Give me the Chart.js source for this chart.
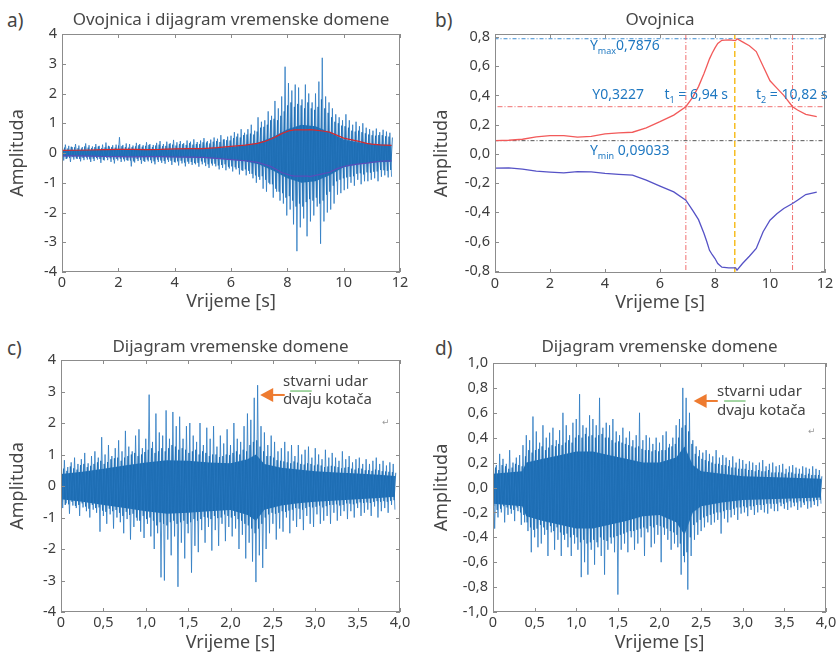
<!DOCTYPE html>
<html>
<head>
<meta charset="utf-8">
<script src="https://cdn.jsdelivr.net/npm/chart.js@4.4.0/dist/chart.umd.min.js"></script>
<style>
  body { margin: 0; background: #fff; width: 840px; height: 654px; position: relative; overflow: hidden; }
  canvas { position: absolute; }
  .letter { position: absolute; font: 19px "Noto Sans", sans-serif; color: #444; }
</style>
</head>
<body>
<div class="letter" style="left:7px;top:7px">a)</div>
<div class="letter" style="left:435px;top:7px">b)</div>
<div class="letter" style="left:7px;top:335px">c)</div>
<div class="letter" style="left:435px;top:335px">d)</div>
<canvas id="chartA" width="420" height="320" style="left:0;top:0"></canvas>
<canvas id="chartB" width="420" height="320" style="left:420px;top:0"></canvas>
<canvas id="chartC" width="420" height="327" style="left:0;top:327px"></canvas>
<canvas id="chartD" width="420" height="327" style="left:420px;top:327px"></canvas>
<script>
// envelope (Ovojnica), shared by a) and b)
var envTime  = [0, 0.5, 1, 1.5, 2, 2.5, 3, 3.5, 4, 4.5, 5, 5.5, 6, 6.5, 6.94, 7.2, 7.4, 7.6, 7.7, 7.8, 7.9, 8, 8.1, 8.25, 8.5, 8.75, 8.8, 9, 9.25, 9.5, 9.75, 10, 10.25, 10.5, 10.82, 11, 11.3, 11.7];
var envUpper = [0.091, 0.093, 0.10, 0.116, 0.125, 0.125, 0.114, 0.12, 0.137, 0.144, 0.148, 0.178, 0.22, 0.265, 0.3227, 0.39, 0.46, 0.55, 0.60, 0.65, 0.69, 0.725, 0.755, 0.777, 0.78, 0.775, 0.7876, 0.766, 0.74, 0.70, 0.60, 0.50, 0.45, 0.40, 0.3227, 0.30, 0.27, 0.255];
var envLower = [-0.098, -0.096, -0.105, -0.118, -0.125, -0.13, -0.121, -0.123, -0.134, -0.141, -0.146, -0.18, -0.221, -0.26, -0.317, -0.39, -0.45, -0.545, -0.60, -0.66, -0.69, -0.716, -0.75, -0.775, -0.78, -0.78, -0.795, -0.75, -0.70, -0.647, -0.533, -0.454, -0.41, -0.374, -0.34, -0.317, -0.278, -0.262];

// markers in b)
var yMaxVal = 0.7876;
var yRefVal = 0.3227;
var yMinVal = 0.09033;
var t1Val = 6.94;
var t2Val = 10.82;
var tPeak = 8.72;

// a) full record: peaks every 0.06 s, plus in-between samples
var dtA = 0.06;
var sigA = [
  0.22, -0.25, 0.28, -0.18, 0.24, -0.3, 0.2, -0.22, 0.3, -0.2,
  0.25, -0.28, 0.2, -0.24, 0.32, -0.22, 0.26, -0.3, 0.22, -0.27,
  0.3, -0.22, 0.24, -0.33, 0.28, -0.25, 0.35, -0.24, 0.22, -0.3,
  0.26, -0.35, 0.28, -0.25, 0.53, -0.3, 0.27, -0.28, 0.32, -0.26,
  0.3, -0.45, 0.25, -0.32, 0.34, -0.27, 0.3, -0.36, 0.26, -0.3,
  0.36, -0.28, 0.3, -0.34, 0.27, -0.38, 0.34, -0.3, 0.4, -0.33,
  0.3, -0.36, 0.38, -0.3, 0.33, -0.4, 0.44, -0.32, 0.36, -0.42,
  0.4, -0.35, 0.33, -0.45, 0.42, -0.36, 0.38, -0.4, 0.46, -0.38,
  0.37, -0.46, 0.42, -0.38, 0.5, -0.44, 0.4, -0.5, 0.45, -0.42,
  0.52, -0.45, 0.48, -0.55, 0.6, -0.5, 0.46, -0.58, 0.55, -0.52,
  0.58, -0.62, 0.7, -0.55, 0.65, -0.72, 0.8, -0.6, 0.68, -0.75,
  0.8, -0.7, 0.95, -0.85, 0.75, -1.0, 1.2, -0.9, 1.05, -1.2,
  1.1, -1.3, 1.4, -1.05, 1.25, -1.5, 1.75, -1.3, 1.5, -1.6,
  1.9, -1.7, 2.9, -2.1, 2.35, -1.9, 2.1, -2.4, 2.3, -3.3,
  2.2, -2.5, 1.8, -2.2, 2.3, -2.8, 2.0, -2.3, 1.7, -2.1,
  2.0, -1.8, 2.4, -3.05, 3.2, -2.3, 1.9, -2.0, 1.7, -1.9,
  1.5, -1.7, 1.3, -1.4, 1.2, -1.35, 1.1, -1.25, 1.3, -1.2,
  1.1, -1.0, 0.95, -1.1, 1.05, -0.9, 0.9, -1.05, 1.0, -0.95,
  0.85, -0.95, 0.8, -0.9, 0.75, -0.85, 0.82, -0.95, 0.7, -0.8,
  0.78, -0.75, 0.72, -0.82, 0.68, -0.8
];
var sigA2 = [
  -0.16, 0.18, -0.2, 0.15, -0.17, 0.21, -0.14, 0.19, -0.18, 0.16,
  -0.2, 0.15, -0.17, 0.22, -0.15, 0.18, -0.21, 0.16, -0.19, 0.2,
  -0.17, 0.22, -0.2, 0.16, -0.23, 0.19, -0.16, 0.24, -0.18, 0.2,
  -0.22, 0.18, -0.2, 0.25, -0.19, 0.23, -0.21, 0.2, -0.24, 0.18,
  -0.25, 0.2, -0.28, 0.22, -0.2, 0.26, -0.23, 0.21, -0.27, 0.24,
  -0.22, 0.27, -0.24, 0.2, -0.28, 0.25, -0.22, 0.28, -0.25, 0.23,
  -0.27, 0.24, -0.22, 0.3, -0.26, 0.28, -0.3, 0.25, -0.28, 0.3,
  -0.26, 0.3, -0.32, 0.27, -0.29, 0.33, -0.3, 0.28, -0.34, 0.3,
  -0.33, 0.3, -0.28, 0.36, -0.32, 0.35, -0.38, 0.32, -0.35, 0.38,
  -0.36, 0.4, -0.42, 0.37, -0.4, 0.45, -0.38, 0.43, -0.46, 0.42,
  -0.45, 0.5, -0.48, 0.55, -0.5, 0.52, -0.58, 0.6, -0.55, 0.62,
  -0.6, 0.65, -0.7, 0.62, -0.75, 0.72, -0.8, 0.85, -0.78, 0.88,
  -0.9, 0.95, -1.0, 1.1, -1.05, 1.15, -1.2, 1.1, -1.3, 1.25,
  -1.35, 1.4, -1.5, 1.6, -1.45, 1.7, -1.6, 1.55, -1.8, 1.65,
  -1.7, 1.6, -1.8, 1.5, -1.65, 1.7, -1.55, 1.5, -1.6, 1.45,
  -1.5, 1.55, -1.7, 1.8, -1.6, 1.5, -1.4, 1.35, -1.3, 1.2,
  -1.1, 1.05, -0.95, 1.0, -0.9, 0.92, -0.85, 0.9, -0.82, 0.85,
  -0.8, 0.75, -0.78, 0.72, -0.7, 0.75, -0.68, 0.7, -0.72, 0.66,
  -0.65, 0.62, -0.66, 0.6, -0.63, 0.58, -0.62, 0.6, -0.57, 0.6,
  -0.58, 0.56, -0.6, 0.55, -0.57, 0.52
];
var coreTimeA = [0, 1, 2, 3, 4, 5, 6, 6.5, 7, 7.5, 8, 8.5, 9, 9.5, 10, 10.5, 11, 11.7];
var coreHiA = [0.1, 0.1, 0.11, 0.12, 0.13, 0.15, 0.2, 0.26, 0.36, 0.55, 0.8, 0.95, 0.9, 0.7, 0.45, 0.36, 0.3, 0.27];
var coreLoA = [-0.11, -0.11, -0.12, -0.13, -0.14, -0.16, -0.22, -0.28, -0.39, -0.6, -0.85, -1.0, -0.95, -0.75, -0.48, -0.38, -0.32, -0.29];

// c) and d) 4 s windows, every 0.02 s plus in-between samples
var dtC = 0.02;
var sigC = [
  0.65, -0.7, 0.82, -0.55, 0.6, -0.88, 0.75, -0.62, 0.9, -0.7,
  0.7, -0.95, 0.85, -0.68, 1.05, -0.8, 0.72, -1.0, 0.95, -0.75,
  1.1, -0.85, 0.9, -1.45, 1.55, -0.95, 1.0, -1.2, 1.3, -0.9,
  0.95, -1.35, 1.2, -1.0, 1.45, -1.15, 1.1, -1.5, 1.75, -1.05,
  1.25, -1.7, 1.1, -1.3, 1.6, -1.1, 1.8, -1.45, 1.2, -1.65,
  1.5, -1.2, 2.9, -1.6, 1.4, -2.0, 2.3, -1.5, 1.7, -2.9,
  1.6, -3.0, 2.4, -1.7, 1.5, -2.2, 2.35, -1.6, 1.9, -3.2,
  2.2, -1.8, 1.5, -2.3, 1.9, -1.5, 2.0, -2.75, 1.6, -1.9,
  1.4, -2.1, 2.0, -1.4, 1.3, -1.8, 1.85, -1.3, 1.5, -2.05,
  1.9, -1.4, 1.25, -1.9, 1.6, -1.2, 1.35, -1.75, 1.8, -1.3,
  1.3, -1.6, 2.0, -1.35, 1.5, -2.0, 1.4, -1.55, 1.9, -2.3,
  2.3, -1.8, 2.1, -2.4, 2.8, -3.05, 3.2, -2.2, 1.9, -2.6,
  1.7, -2.0, 1.3, -1.5, 1.6, -1.2, 1.4, -1.7, 1.1, -1.35,
  1.2, -1.45, 1.4, -1.0, 1.1, -1.5, 1.3, -1.1, 0.95, -1.3,
  1.3, -1.05, 1.0, -1.4, 1.15, -0.95, 1.25, -1.2, 0.9, -1.3,
  1.2, -0.9, 1.0, -1.2, 0.85, -1.1, 1.15, -0.95, 0.9, -1.2,
  1.05, -0.85, 0.9, -1.1, 0.8, -0.95, 1.1, -0.8, 0.85, -1.05,
  0.95, -0.8, 0.75, -1.0, 0.85, -0.7, 0.9, -0.95, 0.7, -0.85,
  0.85, -0.75, 0.7, -0.95, 0.8, -0.65, 0.9, -1.0, 0.7, -0.8,
  0.8, -0.7, 0.65, -0.85, 0.75, -0.6, 0.7, -0.75
];
var sigC2 = [
  -0.5, 0.55, -0.6, 0.48, -0.58, 0.62, -0.5, 0.56, -0.63, 0.52,
  -0.6, 0.66, -0.55, 0.7, -0.65, 0.6, -0.72, 0.64, -0.6, 0.7,
  -0.7, 0.75, -0.68, 0.8, -0.78, 0.7, -0.82, 0.76, -0.72, 0.85,
  -0.8, 0.88, -0.76, 0.9, -0.85, 0.8, -0.95, 0.9, -0.82, 0.95,
  -0.92, 1.0, -0.88, 1.05, -1.0, 0.95, -1.1, 1.0, -0.95, 1.08,
  -1.05, 1.15, -1.0, 1.2, -1.1, 1.05, -1.25, 1.1, -1.15, 1.2,
  -1.2, 1.1, -1.25, 1.2, -1.15, 1.3, -1.1, 1.25, -1.2, 1.15,
  -1.15, 1.2, -1.1, 1.15, -1.2, 1.05, -1.15, 1.1, -1.05, 1.15,
  -1.1, 1.0, -1.05, 1.1, -0.98, 1.05, -1.0, 0.95, -1.05, 1.0,
  -0.95, 1.0, -1.02, 0.92, -1.0, 0.95, -0.9, 1.0, -0.95, 0.98,
  -1.0, 1.05, -0.95, 1.1, -1.05, 1.0, -1.1, 1.15, -1.2, 1.1,
  -1.25, 1.3, -1.35, 1.4, -1.5, 1.45, -1.35, 1.25, -1.2, 1.1,
  -1.0, 0.95, -0.9, 0.95, -0.85, 0.9, -0.88, 0.82, -0.85, 0.8,
  -0.8, 0.78, -0.82, 0.75, -0.78, 0.72, -0.75, 0.78, -0.7, 0.74,
  -0.72, 0.7, -0.75, 0.68, -0.7, 0.72, -0.66, 0.7, -0.68, 0.65,
  -0.66, 0.68, -0.62, 0.65, -0.68, 0.6, -0.64, 0.62, -0.6, 0.64,
  -0.6, 0.62, -0.58, 0.6, -0.62, 0.56, -0.6, 0.58, -0.55, 0.6,
  -0.56, 0.55, -0.58, 0.52, -0.55, 0.56, -0.52, 0.55, -0.54, 0.5,
  -0.52, 0.5, -0.54, 0.48, -0.5, 0.52, -0.48, 0.5, -0.5, 0.47,
  -0.48, 0.46, -0.5, 0.45, -0.47, 0.44, -0.45, 0.42
];
var coreTimeC = [0, 0.25, 0.5, 0.75, 1.0, 1.25, 1.5, 1.75, 2.0, 2.2, 2.3, 2.4, 2.6, 2.8, 3.0, 3.25, 3.5, 3.75, 3.94];
var coreHiC = [0.38, 0.45, 0.55, 0.65, 0.75, 0.82, 0.8, 0.75, 0.72, 0.85, 1.0, 0.7, 0.58, 0.52, 0.47, 0.43, 0.4, 0.36, 0.32];
var coreLoC = [-0.42, -0.5, -0.6, -0.7, -0.8, -0.88, -0.85, -0.8, -0.76, -0.92, -1.1, -0.75, -0.62, -0.55, -0.5, -0.46, -0.42, -0.38, -0.34];

var dtD = 0.02;
var sigD = [
  0.22, -0.33, 0.18, -0.24, 0.27, -0.2, 0.23, -0.28, 0.19, -0.22,
  0.3, -0.21, 0.2, -0.27, 0.24, -0.19, 0.26, -0.3, 0.34, -0.28,
  0.42, -0.35, 0.38, -0.52, 0.57, -0.4, 0.45, -0.48, 0.36, -0.45,
  0.5, -0.38, 0.4, -0.55, 0.44, -0.36, 0.48, -0.5, 0.38, -0.42,
  0.46, -0.55, 0.6, -0.42, 0.5, -0.48, 0.42, -0.55, 0.52, -0.45,
  0.55, -0.5, 0.75, -0.72, 0.5, -0.6, 0.48, -0.7, 0.58, -0.5,
  0.55, -0.62, 0.5, -0.48, 0.72, -0.55, 0.48, -0.7, 0.52, -0.5,
  0.5, -0.45, 0.55, -0.52, 0.45, -0.86, 0.42, -0.5, 0.48, -0.45,
  0.4, -0.52, 0.45, -0.4, 0.38, -0.5, 0.42, -0.45, 0.6, -0.4,
  0.38, -0.55, 0.42, -0.36, 0.4, -0.48, 0.35, -0.45, 0.4, -0.38,
  0.36, -0.6, 0.42, -0.38, 0.45, -0.42, 0.35, -0.5, 0.4, -0.45,
  0.5, -0.48, 0.55, -0.7, 0.8, -0.6, 0.72, -0.82, 0.6, -0.55,
  0.38, -0.42, 0.33, -0.38, 0.3, -0.35, 0.28, -0.32, 0.3, -0.28,
  0.27, -0.3, 0.25, -0.28, 0.3, -0.26, 0.24, -0.37, 0.26, -0.25,
  0.24, -0.28, 0.22, -0.24, 0.25, -0.22, 0.2, -0.26, 0.23, -0.21,
  0.22, -0.2, 0.19, -0.23, 0.21, -0.18, 0.2, -0.22, 0.18, -0.2,
  0.2, -0.18, 0.22, -0.2, 0.17, -0.21, 0.19, -0.17, 0.2, -0.19,
  0.17, -0.19, 0.18, -0.15, 0.19, -0.17, 0.15, -0.18, 0.17, -0.16,
  0.18, -0.15, 0.16, -0.18, 0.15, -0.16, 0.17, -0.14, 0.16, -0.17,
  0.15, -0.16, 0.17, -0.14, 0.15, -0.15, 0.14, -0.13
];
var sigD2 = [
  -0.15, 0.16, -0.18, 0.14, -0.17, 0.18, -0.15, 0.17, -0.16, 0.15,
  -0.17, 0.16, -0.18, 0.19, -0.16, 0.18, -0.2, 0.17, -0.22, 0.25,
  -0.28, 0.3, -0.32, 0.28, -0.34, 0.3, -0.33, 0.31, -0.3, 0.33,
  -0.32, 0.3, -0.34, 0.32, -0.31, 0.34, -0.35, 0.33, -0.32, 0.35,
  -0.36, 0.34, -0.38, 0.36, -0.37, 0.38, -0.4, 0.36, -0.38, 0.4,
  -0.4, 0.42, -0.44, 0.4, -0.42, 0.43, -0.45, 0.41, -0.44, 0.42,
  -0.42, 0.4, -0.44, 0.42, -0.4, 0.43, -0.42, 0.4, -0.43, 0.4,
  -0.4, 0.38, -0.4, 0.36, -0.39, 0.37, -0.38, 0.36, -0.37, 0.35,
  -0.36, 0.34, -0.35, 0.33, -0.35, 0.32, -0.34, 0.33, -0.33, 0.31,
  -0.32, 0.3, -0.33, 0.3, -0.31, 0.29, -0.32, 0.3, -0.3, 0.29,
  -0.31, 0.3, -0.32, 0.3, -0.33, 0.32, -0.35, 0.33, -0.36, 0.35,
  -0.38, 0.4, -0.45, 0.48, -0.55, 0.5, -0.52, 0.45, -0.4, 0.35,
  -0.3, 0.27, -0.28, 0.25, -0.26, 0.23, -0.24, 0.22, -0.23, 0.21,
  -0.22, 0.2, -0.21, 0.19, -0.2, 0.19, -0.2, 0.18, -0.19, 0.18,
  -0.18, 0.17, -0.18, 0.16, -0.17, 0.16, -0.16, 0.15, -0.16, 0.15,
  -0.15, 0.15, -0.16, 0.14, -0.15, 0.14, -0.15, 0.13, -0.14, 0.14,
  -0.14, 0.13, -0.14, 0.13, -0.13, 0.14, -0.13, 0.12, -0.13, 0.12,
  -0.13, 0.12, -0.12, 0.12, -0.13, 0.11, -0.12, 0.12, -0.11, 0.12,
  -0.12, 0.11, -0.12, 0.11, -0.11, 0.11, -0.12, 0.1, -0.11, 0.11,
  -0.11, 0.1, -0.11, 0.1, -0.1, 0.1, -0.1, 0.09
];
var coreTimeD = [0, 0.35, 0.4, 0.6, 0.8, 1.0, 1.2, 1.4, 1.6, 1.8, 2.0, 2.2, 2.3, 2.4, 2.5, 2.75, 3.0, 3.5, 3.94];
var coreHiD = [0.11, 0.13, 0.2, 0.23, 0.26, 0.29, 0.29, 0.26, 0.23, 0.2, 0.2, 0.24, 0.33, 0.18, 0.13, 0.11, 0.09, 0.08, 0.07];
var coreLoD = [-0.13, -0.15, -0.23, -0.27, -0.3, -0.33, -0.33, -0.3, -0.27, -0.23, -0.22, -0.28, -0.38, -0.2, -0.15, -0.12, -0.1, -0.09, -0.08];

// tick labels
var xTicksLong = [0, 2, 4, 6, 8, 10, 12];
var xTicksShort = [0, 0.5, 1, 1.5, 2, 2.5, 3, 3.5, 4];
var yTicksA = [-4, -3, -2, -1, 0, 1, 2, 3, 4];
var yTicksB = [-0.8, -0.6, -0.4, -0.2, 0, 0.2, 0.4, 0.6, 0.8];
var yTicksD = [-1, -0.8, -0.6, -0.4, -0.2, 0, 0.2, 0.4, 0.6, 0.8, 1];

var FONT = '"Noto Sans", sans-serif';
var bandBlue = '#1c6cb2';
var lineBlue = 'rgba(44,122,194,0.8)';
var innerBlue = 'rgba(30,110,180,0.9)';
var noteBlue = '#1f78c1';

function series(dt, vals, offset) {
  return vals.map(function (v, i) { return { x: +(i * dt + (offset || 0)).toFixed(3), y: v }; });
}
function pairs(ts, vals) {
  return ts.map(function (t, i) { return { x: t, y: vals[i] }; });
}

// MATLAB-like box with inward ticks on all four sides
var boxTicks = {
  id: 'boxTicks',
  afterDatasetsDraw: function (chart) {
    var ctx = chart.ctx, a = chart.chartArea;
    var xs = chart.scales.x, ys = chart.scales.y;
    ctx.save();
    ctx.strokeStyle = '#8c8c8c';
    ctx.lineWidth = 1;
    ctx.strokeRect(Math.round(a.left) + 0.5, Math.round(a.top) + 0.5, Math.round(a.right - a.left) - 1, Math.round(a.bottom - a.top) - 1);
    ctx.beginPath();
    xs.ticks.forEach(function (t) {
      var px = Math.round(xs.getPixelForValue(t.value)) + 0.5;
      ctx.moveTo(px, a.bottom); ctx.lineTo(px, a.bottom - 4);
      ctx.moveTo(px, a.top); ctx.lineTo(px, a.top + 4);
    });
    ys.ticks.forEach(function (t) {
      var py = Math.round(ys.getPixelForValue(t.value)) + 0.5;
      ctx.moveTo(a.left, py); ctx.lineTo(a.left + 4, py);
      ctx.moveTo(a.right, py); ctx.lineTo(a.right - 4, py);
    });
    ctx.stroke();
    ctx.restore();
  }
};

// text with optional subscripts: parts = [[text, isSub], ...]
function drawParts(ctx, x, y, parts, color, size) {
  ctx.fillStyle = color;
  ctx.textBaseline = 'middle';
  ctx.textAlign = 'left';
  parts.forEach(function (p) {
    var sub = p[1];
    ctx.font = (sub ? Math.round(size * 0.62) : size) + 'px ' + FONT;
    ctx.fillText(p[0], x, sub ? y + size * 0.38 : y);
    x += ctx.measureText(p[0]).width;
  });
}

function arrowNote(tip, tail, textAt, lines) {
  return {
    id: 'arrowNote',
    afterDraw: function (chart) {
      var ctx = chart.ctx, xs = chart.scales.x, ys = chart.scales.y;
      var tx = xs.getPixelForValue(tip[0]), ty = ys.getPixelForValue(tip[1]);
      var ex = xs.getPixelForValue(tail[0]);
      ctx.save();
      ctx.strokeStyle = '#ee7b30';
      ctx.fillStyle = '#ee7b30';
      ctx.lineWidth = 2;
      ctx.beginPath(); ctx.moveTo(tx + 10, ty); ctx.lineTo(ex, ty); ctx.stroke();
      ctx.beginPath(); ctx.moveTo(tx, ty); ctx.lineTo(tx + 13, ty - 7); ctx.lineTo(tx + 13, ty + 7); ctx.closePath(); ctx.fill();
      var lx = xs.getPixelForValue(textAt[0]);
      ctx.font = '15px ' + FONT;
      ctx.fillStyle = '#444';
      ctx.textBaseline = 'middle';
      ctx.fillText(lines[0], lx, ys.getPixelForValue(textAt[1]));
      ctx.fillText(lines[1], lx, ys.getPixelForValue(textAt[2]));
      // spell-check squiggle under the first word
      var s0 = ctx.measureText('s').width, s1 = ctx.measureText('stva').width;
      ctx.strokeStyle = '#86c886';
      ctx.lineWidth = 1.5;
      var uy = ys.getPixelForValue(textAt[1]) + 9;
      ctx.beginPath(); ctx.moveTo(lx + s0, uy); ctx.lineTo(lx + s1, uy); ctx.stroke();
      ctx.font = '9px "DejaVu Sans"';
      ctx.fillStyle = '#9a9a9a';
      ctx.fillText('\u21b5', chart.chartArea.right - 18, ys.getPixelForValue(textAt[3]));
      ctx.restore();
    }
  };
}

var envNotes = {
  id: 'envNotes',
  afterDraw: function (chart) {
    var ctx = chart.ctx, xs = chart.scales.x, ys = chart.scales.y;
    ctx.save();
    drawParts(ctx, xs.getPixelForValue(3.45), ys.getPixelForValue(0.738), [['Y'], ['max', true], ['0,7876']], noteBlue, 14);
    drawParts(ctx, xs.getPixelForValue(3.54), ys.getPixelForValue(0.40), [['Y0,3227']], noteBlue, 14);
    drawParts(ctx, xs.getPixelForValue(6.16), ys.getPixelForValue(0.40), [['t'], ['1', true], [' = 6,94 s']], noteBlue, 14);
    drawParts(ctx, xs.getPixelForValue(9.49), ys.getPixelForValue(0.40), [['t'], ['2', true], [' = 10,82 s']], noteBlue, 14);
    drawParts(ctx, xs.getPixelForValue(3.45), ys.getPixelForValue(0.02), [['Y'], ['min', true], [' 0,09033']], noteBlue, 14);
    ctx.restore();
  }
};

function makePanel(id, o) {
  return new Chart(document.getElementById(id), {
    type: 'line',
    data: { datasets: o.datasets },
    options: {
      responsive: false,
      animation: false,
      events: [],
      layout: { padding: { left: 0, right: o.padRight, top: 0, bottom: 0 } },
      elements: { point: { radius: 0 }, line: { tension: 0 } },
      plugins: {
        legend: { display: false },
        tooltip: { enabled: false },
        title: {
          display: true, text: o.title, fullSize: false, color: '#474747',
          font: { family: FONT, size: 17, weight: 'normal' },
          padding: { top: o.titleTop, bottom: o.titleBottom }
        }
      },
      scales: {
        x: {
          type: 'linear', min: o.xMin, max: o.xMax,
          afterBuildTicks: function (s) { s.ticks = o.xTicks.map(function (v) { return { value: v }; }); },
          afterFit: function (s) { s.height = o.xAxisH; },
          grid: { display: false, drawTicks: false },
          border: { display: false },
          ticks: { callback: o.xFmt, color: '#3d3d3d', font: { family: FONT, size: 14.5 }, padding: 2, maxRotation: 0, autoSkip: false },
          title: { display: true, text: 'Vrijeme [s]', color: '#474747', font: { family: FONT, size: 18 }, padding: { top: 0, bottom: o.xTitlePad } }
        },
        y: {
          type: 'linear', min: o.yMin, max: o.yMax,
          afterBuildTicks: function (s) { s.ticks = o.yTicks.map(function (v) { return { value: v }; }); },
          afterFit: function (s) { s.width = o.yAxisW; },
          grid: { display: false, drawTicks: false },
          border: { display: false },
          ticks: { callback: o.yFmt, color: '#3d3d3d', font: { family: FONT, size: 14.5 }, padding: 5, autoSkip: false },
          title: { display: true, text: 'Amplituda', color: '#474747', font: { family: FONT, size: 18 }, padding: { top: o.yTitlePad, bottom: 0 } }
        }
      }
    },
    plugins: [boxTicks].concat(o.extra || [])
  });
}

function hline(y, color, dash) {
  return { data: [{ x: -1, y: y }, { x: 13, y: y }], borderColor: color, borderWidth: 1, borderDash: dash, fill: false };
}
function vline(x, color, dash, w) {
  return { data: [{ x: x, y: -1 }, { x: x, y: 1 }], borderColor: color, borderWidth: w || 1, borderDash: dash, fill: false };
}

function signalSets(sig, sig2, dt, coreT, hi, lo) {
  return [
    { data: series(dt, sig2, dt / 2), borderColor: innerBlue, borderWidth: 1, fill: false },
    { data: series(dt, sig), borderColor: lineBlue, borderWidth: 1, fill: false },
    { data: pairs(coreT, hi), borderWidth: 0, backgroundColor: bandBlue, fill: '+1' },
    { data: pairs(coreT, lo), borderWidth: 0, fill: false }
  ];
}

var intFmt = function (v) { return String(v); };
var decFmt = function (v) { return v.toFixed(1).replace('.', ','); };
var halfFmt = function (v) { return v === 0 ? '0' : v.toFixed(1).replace('.', ','); };

makePanel('chartA', {
  title: 'Ovojnica i dijagram vremenske domene',
  titleTop: 10, titleBottom: 3.6,
  padRight: 20, yAxisW: 62, xAxisH: 48, xTitlePad: 7, yTitlePad: 7,
  xMin: 0, xMax: 12, yMin: -4, yMax: 4,
  xTicks: xTicksLong, yTicks: yTicksA, xFmt: intFmt, yFmt: intFmt,
  datasets: [
    { data: pairs(envTime, envUpper), borderColor: '#d42a2e', borderWidth: 1.2, fill: false },
    { data: pairs(envTime, envLower), borderColor: '#5a4db8', borderWidth: 1.2, fill: false }
  ].concat(signalSets(sigA, sigA2, dtA, coreTimeA, coreHiA, coreLoA))
});

makePanel('chartB', {
  title: 'Ovojnica',
  titleTop: 10, titleBottom: 3.6,
  padRight: 15, yAxisW: 75, xAxisH: 47, xTitlePad: 6, yTitlePad: 11.5,
  xMin: 0, xMax: 12, yMin: -0.815, yMax: 0.82,
  xTicks: xTicksLong, yTicks: yTicksB, xFmt: intFmt, yFmt: decFmt,
  datasets: [
    { data: pairs(envTime, envUpper), borderColor: '#f25a5a', borderWidth: 1.3, fill: false },
    { data: pairs(envTime, envLower), borderColor: '#5552c6', borderWidth: 1.3, fill: false },
    vline(tPeak, '#f5b400', [6, 3], 1.3),
    vline(t1Val, '#f07070', [5, 2, 1, 2]),
    vline(t2Val, '#f07070', [5, 2, 1, 2]),
    hline(yMaxVal, '#3d8bd0', [4, 2, 1, 2]),
    hline(yRefVal, '#f07070', [5, 2, 1, 2]),
    hline(yMinVal, '#555555', [4, 2, 1, 2])
  ],
  extra: [envNotes]
});

makePanel('chartC', {
  title: 'Dijagram vremenske domene',
  titleTop: 10, titleBottom: 2.6,
  padRight: 20, yAxisW: 61, xAxisH: 42, xTitlePad: 0, yTitlePad: 7.5,
  xMin: 0, xMax: 4, yMin: -4, yMax: 4,
  xTicks: xTicksShort, yTicks: yTicksA, xFmt: halfFmt, yFmt: intFmt,
  datasets: signalSets(sigC, sigC2, dtC, coreTimeC, coreHiC, coreLoC),
  extra: [arrowNote([2.35, 2.89], [2.64], [2.62, 3.3, 2.73, 2.0], ['stvarni udar', 'dvaju kota\u010da'])]
});

makePanel('chartD', {
  title: 'Dijagram vremenske domene',
  titleTop: 10, titleBottom: 5.6,
  padRight: 14, yAxisW: 73, xAxisH: 42, xTitlePad: 0, yTitlePad: 11.5,
  xMin: 0, xMax: 4, yMin: -1, yMax: 1,
  xTicks: xTicksShort, yTicks: yTicksD, xFmt: halfFmt, yFmt: decFmt,
  datasets: signalSets(sigD, sigD2, dtD, coreTimeD, coreHiD, coreLoD),
  extra: [arrowNote([2.41, 0.695], [2.70], [2.69, 0.767, 0.614, 0.45], ['stvarni udar', 'dvaju kota\u010da'])]
});
</script>
</body>
</html>
